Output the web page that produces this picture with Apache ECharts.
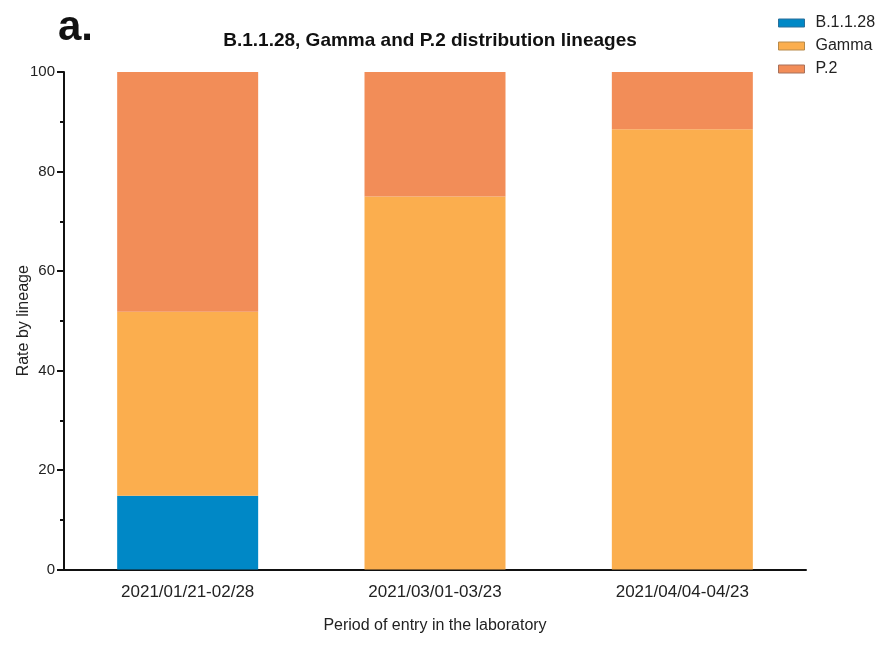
<!DOCTYPE html>
<html><head><meta charset="utf-8">
<script src="https://cdn.jsdelivr.net/npm/echarts@6/dist/echarts.min.js"></script>
<style>html,body{margin:0;padding:0;background:#fff}#c{width:890px;height:645px}</style>
</head><body><div id="c"></div>
<script>
const categories = ['2021/01/21-02/28', '2021/03/01-03/23', '2021/04/04-04/23'];
const b1128 = [14.8, 0, 0];
const gamma = [37.0, 75.0, 88.5];
const p2 = [48.2, 25.0, 11.5];
const yTicks = [0, 20, 40, 60, 80, 100];

const colors = ['#0088c6', '#fbae4e', '#f28d58'];
const borders = ['#2a6f9a', '#b88a4a', '#a8705a'];
const font = 'Liberation Sans, Arial, sans-serif';

const chart = echarts.init(document.getElementById('c'));
function mk(name, data, i) {
  return { name, type: 'bar', stack: 'all', data, barWidth: 141,
    itemStyle: { color: colors[i] }, emphasis: { disabled: true } };
}
chart.setOption({
  animation: false,
  textStyle: { fontFamily: font },
  title: { text: 'B.1.1.28, Gamma and P.2 distribution lineages', left: 425, top: 26, textAlign: 'center',
    textStyle: { fontSize: 19, fontWeight: 'bold', color: '#111', fontFamily: font } },
  graphic: [{ type: 'text', left: 58, top: 7, style: { text: 'a.', fontSize: 42, fontWeight: 'bold', fill: '#111', fontFamily: font } }],
  legend: { orient: 'vertical', left: 773, top: 10, itemWidth: 26, itemHeight: 8, itemGap: 7, icon: 'rect',
    data: ['B.1.1.28', 'Gamma', 'P.2'].map((n, i) => ({ name: n, itemStyle: { borderColor: borders[i], borderWidth: 1 } })),
    textStyle: { fontSize: 16, color: '#222', fontFamily: font, padding: [0, 0, 0, 6] } },
  grid: { left: 64, right: 84, top: 72, bottom: 75.5, containLabel: false, outerBoundsMode: 'none' },
  xAxis: { type: 'category', data: categories,
    name: 'Period of entry in the laboratory', nameLocation: 'middle', nameGap: 48, nameMoveOverlap: false,
    nameTextStyle: { fontSize: 16, color: '#222', fontFamily: font },
    axisLine: { lineStyle: { color: '#111', width: 2 } },
    axisTick: { alignWithLabel: true, length: 6, lineStyle: { color: '#111', width: 2 } },
    axisLabel: { fontSize: 17, color: '#222', margin: 14, fontFamily: font } },
  yAxis: { type: 'value', min: yTicks[0], max: yTicks[yTicks.length - 1], interval: 20,
    name: 'Rate by lineage', nameLocation: 'middle', nameGap: 32, nameMoveOverlap: false,
    nameTextStyle: { fontSize: 16, color: '#222', fontFamily: font },
    axisLine: { show: true, lineStyle: { color: '#111', width: 2 } },
    axisTick: { show: true, length: 7, lineStyle: { color: '#111', width: 2 } },
    minorTick: { show: true, splitNumber: 2, length: 4, lineStyle: { color: '#111', width: 2 } },
    splitLine: { show: false },
    axisLabel: { fontSize: 15, color: '#222', margin: 9, fontFamily: font } },
  series: [mk('B.1.1.28', b1128, 0), mk('Gamma', gamma, 1), mk('P.2', p2, 2)]
});
</script></body></html>
